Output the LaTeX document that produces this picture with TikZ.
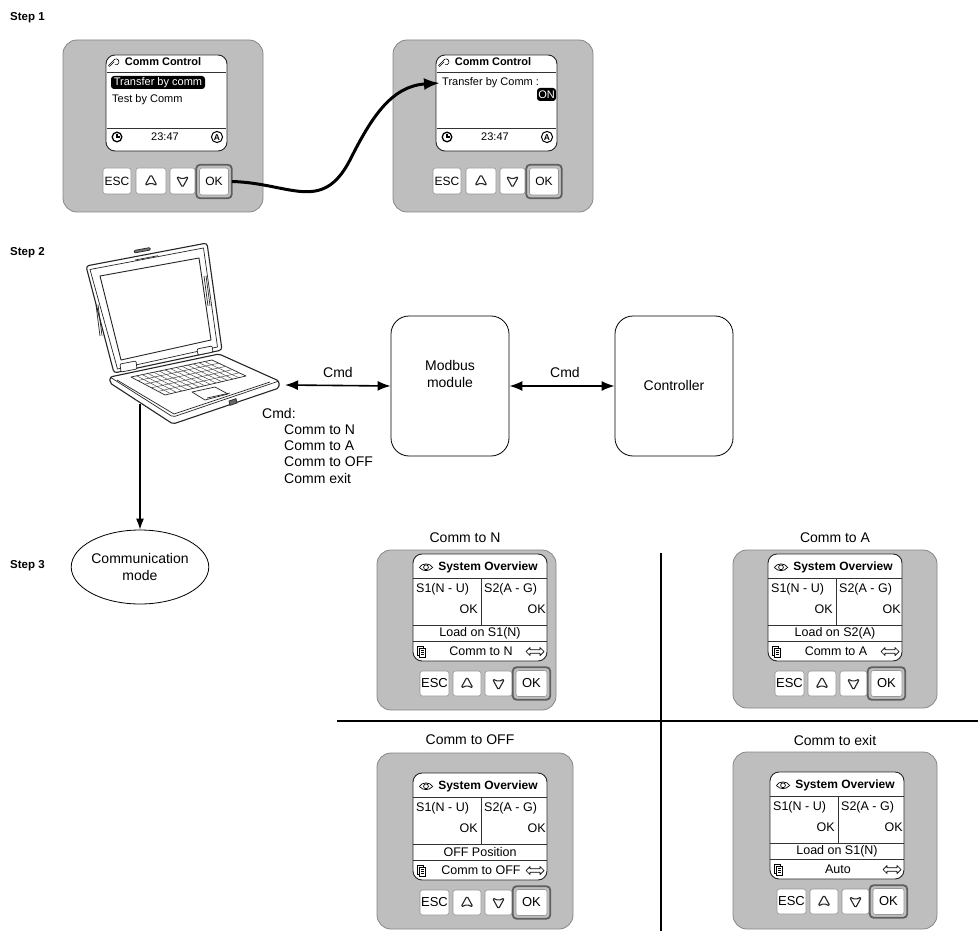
\documentclass[tikz,border=0pt]{standalone}
\usepackage{fontspec}
\setmainfont{Liberation Sans}
\usetikzlibrary{arrows.meta,calc,shapes.geometric}

\definecolor{panelgray}{RGB}{190,190,190}
\definecolor{paneledge}{RGB}{135,135,135}
\definecolor{keyedge}{RGB}{150,150,150}
\definecolor{ringgray}{RGB}{95,95,95}

\newcommand\keyfontA{\fontsize{12}{12}\selectfont}
\newcommand\keyfontB{\fontsize{13}{13}\selectfont}
\newcommand\mainfont{\fontsize{14}{16.5}\selectfont}

\tikzset{
  panelbox/.style={fill=panelgray, draw=paneledge, line width=0.8, rounded corners=14},
  scrbox/.style={fill=white, draw=black!85, line width=0.9, rounded corners=9},
  keybox/.style={draw=keyedge, fill=white, line width=0.6, rounded corners=2.5, inner sep=0},
  okring/.style={draw=ringgray, line width=1.8, rounded corners=4},
  sepline/.style={draw=black!80, line width=0.8},
  s1txt/.style={inner sep=0, font=\fontsize{11}{11}\selectfont},
  s1bold/.style={inner sep=0, font=\bfseries\fontsize{11}{11}\selectfont},
  s3txt/.style={inner sep=0, font=\fontsize{12.5}{12.5}\selectfont},
  s3bold/.style={inner sep=0, font=\bfseries\fontsize{12}{12}\selectfont},
  selbox/.style={fill=black, text=white, rounded corners=3, inner sep=0,
    minimum width=94, minimum height=13, font=\fontsize{11}{11}\selectfont},
  txt/.style={inner sep=0, font=\mainfont},
  steplabel/.style={inner sep=0, anchor=west, font=\bfseries\fontsize{11.5}{11.5}\selectfont},
  blockbox/.style={draw=black, line width=0.8, rounded corners=18, minimum width=118, minimum height=140},
  dblarrow/.style={{Latex[length=13pt,width=10pt]}-{Latex[length=13pt,width=10pt]}, line width=1.6},
  downarrow/.style={-{Latex[length=11pt,width=8pt]}, line width=1.2},
  flowcurve/.style={-{Latex[length=16pt,width=12pt]}, line width=3},
  divline/.style={draw=black, line width=1.2},
  lap/.style={draw=black!85, line width=0.7, line join=round},
  glyph/.style={draw=black!85, line width=1.1, line join=round, rounded corners=1.6},
}

% small pictograms, placed by their centre
\newcommand\upglyph[2]{\begin{scope}[shift={(#1,#2)}]
  \draw[glyph] (0,-6.5) -- (6,4.5) -- (0,2) -- (-6,4.5) -- cycle;
\end{scope}}
\newcommand\downglyph[2]{\begin{scope}[shift={(#1,#2)}]
  \draw[glyph] (0,6.5) -- (6,-4.5) -- (0,-2) -- (-6,-4.5) -- cycle;
\end{scope}}
\newcommand\clockicon[2]{\begin{scope}[shift={(#1,#2)}]
  \draw[line width=1.3] (0,0) circle (4.8);
  \draw[line width=1.2] (0,-3.2) -- (0,0) -- (3,0);
\end{scope}}
\newcommand\autoicon[3]{\begin{scope}[shift={(#2,#3)}]
  \draw[line width=1] (0,0) circle (5.6);
  \node[inner sep=0, font=\bfseries\fontsize{8.5}{8.5}\selectfont] (#1-auto) at (0,0.3) {A};
\end{scope}}
\newcommand\wrenchicon[2]{\begin{scope}[shift={(#1,#2)}]
  \draw[line width=0.6] (-5.5,4.5) -- (-0.8,-0.2) (-4.5,5.5) -- (0.2,0.8);
  \draw[line width=0.6] (-5.5,4.5) -- (-4.5,5.5);
  \draw[line width=0.6] (-0.8,-0.2) arc (200:470:3);
\end{scope}}
\newcommand\eyeicon[2]{\begin{scope}[shift={(#1,#2)}]
  \draw[line width=0.7] (-7,1) .. controls (-4,-4.5) and (4,-4.5) .. (7,1);
  \draw[line width=0.7] (-6,1) .. controls (-3,4.5) and (3,4.5) .. (6,1);
  \draw[line width=0.7] (0,0.3) circle (2.4);
\end{scope}}
\newcommand\docicon[2]{\begin{scope}[shift={(#1,#2)}]
  \draw[line width=0.6] (-4,-5) rectangle (2,4);
  \draw[line width=0.6, fill=white] (-1.5,-3) rectangle (4.5,6);
  \draw[line width=0.5] (0,-1) -- (3,-1) (0,1) -- (3,1) (0,3) -- (3,3);
\end{scope}}
\newcommand\swapicon[2]{\begin{scope}[shift={(#1,#2)}]
  \draw[line width=0.7, line join=round] (-9,0.5) -- (-5,-3.5) -- (-5,-1.2) -- (5,-1.2) -- (5,-3.5)
    -- (9,0.5) -- (5,4.5) -- (5,2.2) -- (-5,2.2) -- (-5,4.5) -- cycle;
\end{scope}}

% key row of the transfer-control display (origin: screen top-left)
\newcommand\keysA[1]{%
  \node[keybox, minimum width=28, minimum height=26, font=\keyfontA] (#1-esc) at (11,126) {ESC};
  \node[keybox, minimum width=30, minimum height=26] (#1-up) at (45,126) {};
  \upglyph{45}{126}
  \node[keybox, minimum width=25, minimum height=26] (#1-dn) at (76.5,126) {};
  \downglyph{76.5}{126}
  \node[keybox, minimum width=29, minimum height=27, font=\keyfontA] (#1-ok) at (108,126.5) {OK};
  \draw[okring] ($(#1-ok.south west)+(-3,3)$) rectangle ($(#1-ok.north east)+(3,-3)$);
  \coordinate (#1-okout) at ($(#1-ok.east)+(3,0)$);
}
% key row of the overview display (origin: screen top-left)
\newcommand\keysB[1]{%
  \node[keybox, minimum width=29, minimum height=25, font=\keyfontB] (#1-esc) at (21.5,129.5) {ESC};
  \node[keybox, minimum width=28, minimum height=25] (#1-up) at (54,129.5) {};
  \upglyph{54}{129.5}
  \node[keybox, minimum width=27, minimum height=25] (#1-dn) at (85.5,129.5) {};
  \downglyph{85.5}{129.5}
  \node[keybox, minimum width=31, minimum height=26, font=\keyfontB] (#1-ok) at (118.5,129.5) {OK};
  \draw[okring] ($(#1-ok.south west)+(-3,3)$) rectangle ($(#1-ok.north east)+(3,-3)$);
}

% "Comm Control" display, 121 x 96
\newcommand\commscreen[1]{%
  \draw[scrbox] (0,0) rectangle (121,96);
  \draw[sepline] (1,17) -- (120,17) (1,73) -- (120,73);
  \wrenchicon{8}{6}
  \node[s1bold] (#1-head) at (57,7) {Comm Control};
  \clockicon{11}{82}
  \node[s1txt] (#1-time) at (59,82) {23:47};
  \autoicon{#1}{111}{82}
}

% "System Overview" display, 134 x 107, with its keys
\newcommand\overview[3]{%
  \draw[scrbox] (0,0) rectangle (134,107);
  \draw[sepline] (0,24) -- (134,24) (0,71) -- (134,71) (0,87) -- (134,87) (68,24) -- (68,71);
  \eyeicon{13}{13}
  \node[s3bold] (#1-head) at (75,13) {System Overview};
  \node[s3txt, anchor=west] (#1-s1) at (3,35) {S1(N - U)};
  \node[s3txt, anchor=west] (#1-s2) at (71,35) {S2(A - G)};
  \node[s3txt, anchor=east] (#1-ok1) at (65,55) {OK};
  \node[s3txt, anchor=east] (#1-ok2) at (133,55) {OK};
  \node[s3txt] (#1-load) at (67,79) {#2};
  \node[s3txt] (#1-mode) at (68,97) {#3};
  \docicon{8}{97}
  \swapicon{122}{97}
  \keysB{#1}
}

\begin{document}
\begin{tikzpicture}[x=1pt,y=-1pt]
\useasboundingbox (0,0) rectangle (978,931);
\fill[white] (0,0) rectangle (978,931);

% ---------------- Step 1 ----------------
\node[steplabel] (step1) at (10,18) {Step 1};

\draw[panelbox] (63,40) rectangle (263,212);
\begin{scope}[shift={(106,55)}]
  \commscreen{sa}
  \node[selbox] (sa-sel) at (52,27.5) {Transfer by comm};
  \node[s1txt, anchor=west] (sa-test) at (6,45) {Test by Comm};
  \keysA{sa}
\end{scope}

\draw[panelbox] (393,40) rectangle (593,212);
\begin{scope}[shift={(436,55)}]
  \commscreen{sb}
  \node[s1txt, anchor=west] (sb-txt) at (6,28) {Transfer by Comm :};
  \node[selbox, minimum width=19, minimum height=13] (sb-on) at (110.5,39.5) {ON};
  \coordinate (sb-in) at ($(sb-txt.west)+(-2,0)$);
  \keysA{sb}
\end{scope}

\draw[flowcurve] (sa-okout) .. controls (290,183) and (322,214) .. (350,160)
  .. controls (372,116) and (392,86) .. (sb-in);

% ---------------- Step 2 ----------------
\node[steplabel] (step2) at (10,253) {Step 2};

% notebook computer
\draw[lap, fill=white, rounded corners=3, line width=1.1] (86,266) -- (207,243) -- (222,350) -- (114,373) -- cycle;
\draw[lap] (90,269.5) -- (203.5,248) -- (217.5,347) -- (117.5,369) -- cycle;
\draw[lap, line width=0.9] (100,276) -- (199,258) -- (211,340) -- (121,360) -- cycle;
\draw[lap, fill=black!55, rounded corners=1] (134,250.5) -- (150,247.5) -- (150.4,250) -- (134.4,253) -- cycle;
\draw[lap] (135,260) -- (158,255.7);
\draw[lap] (96,305) -- (100,336) (98,304.6) -- (102,335.6);
\draw[lap] (204,276) -- (208,306) (206,275.6) -- (210,305.6);
\draw[lap, fill=white, rounded corners=1] (120,364) -- (136,361) -- (137,369) -- (121,372) -- cycle;
\draw[lap, fill=white, rounded corners=1] (197,349) -- (212,346) -- (213,352) -- (198,355) -- cycle;
\draw[lap, fill=white, rounded corners=2, line width=1.1] (110,377) -- (110,383) -- (173,424) -- (279,388) -- (279,381) -- (219,354) -- cycle;
\draw[lap, rounded corners=2] (110,377) -- (173,417) -- (279,381);
\draw[lap] (117,380) -- (174,414) -- (270,382);
\coordinate (K1) at (131,377);
\coordinate (K2) at (212,360);
\coordinate (K3) at (246,376);
\coordinate (K4) at (165,395);
\draw[lap] (K1) -- (K2) -- (K3) -- (K4) -- cycle;
\foreach \t in {0.2,0.4,0.6,0.8}
  \draw[draw=black!70, line width=0.5] ($(K1)!\t!(K4)$) -- ($(K2)!\t!(K3)$);
\foreach \s in {0.07,0.14,...,0.95}
  \draw[draw=black!70, line width=0.5] ($(K1)!\s!(K2)$) -- ($(K4)!\s!(K3)$);
\draw[lap] (192,392) -- (215,387) -- (228,394) -- (205,400) -- cycle;
\draw[lap] (207,398) -- (230,393);
\draw[lap, fill=black!60] (229,401) -- (236,398.6) -- (237,403) -- (230,405.4) -- cycle;
\coordinate (lapR) at (285,385);
\coordinate (lapB) at (140,404);

\node[blockbox] (modbus) at (450,386) {};
\node[txt, align=center] (modbus-label) at (450,374) {Modbus\\module};
\node[blockbox] (ctrl) at (674,386) {};
\node[txt] (ctrl-label) at (674,385) {Controller};

\draw[dblarrow] (lapR) -- (modbus.west);
\draw[dblarrow] (modbus.east) -- (ctrl.west);
\node[txt] (cmd-a) at (338,372) {Cmd};
\node[txt] (cmd-b) at (565,372) {Cmd};

\node[txt, anchor=west] (cmdlist) at (262,413) {Cmd:};
\node[txt, anchor=west] (cmd-n) at (284,430) {Comm to N};
\node[txt, anchor=west] (cmd-aa) at (284,446) {Comm to A};
\node[txt, anchor=west] (cmd-off) at (284,462) {Comm to OFF};
\node[txt, anchor=west] (cmd-exit) at (284,478) {Comm exit};

% ---------------- Step 3 ----------------
\node[steplabel] (step3) at (10,566) {Step 3};
\node[ellipse, draw, line width=0.8, minimum width=130, minimum height=74, align=center,
  inner sep=0, font=\mainfont] (mode) at (140,567) {Communication\\mode};
\draw[downarrow] (lapB) -- (mode.north);

\draw[divline] (661,553) -- (661,931);
\draw[divline] (337,721) -- (978,721);

\node[txt] (t-n) at (465,538) {Comm to N};
\node[txt] (t-a) at (835,538) {Comm to A};
\node[txt] (t-off) at (470,740) {Comm to OFF};
\node[txt] (t-exit) at (835,740) {Comm to exit};

\draw[panelbox] (377,550) rectangle (556,710);
\begin{scope}[shift={(413,554)}]
  \overview{pn}{Load on S1(N)}{Comm to N}
\end{scope}

\draw[panelbox] (733,550) rectangle (937,708);
\begin{scope}[shift={(768,554)}]
  \overview{pa}{Load on S2(A)}{Comm to A}
\end{scope}

\draw[panelbox] (377,753) rectangle (573,929);
\begin{scope}[shift={(413,773)}]
  \overview{po}{OFF Position}{Comm to OFF}
\end{scope}

\draw[panelbox] (733,752) rectangle (937,929);
\begin{scope}[shift={(770,772)}]
  \overview{px}{Load on S1(N)}{Auto}
\end{scope}

\end{tikzpicture}
\end{document}
